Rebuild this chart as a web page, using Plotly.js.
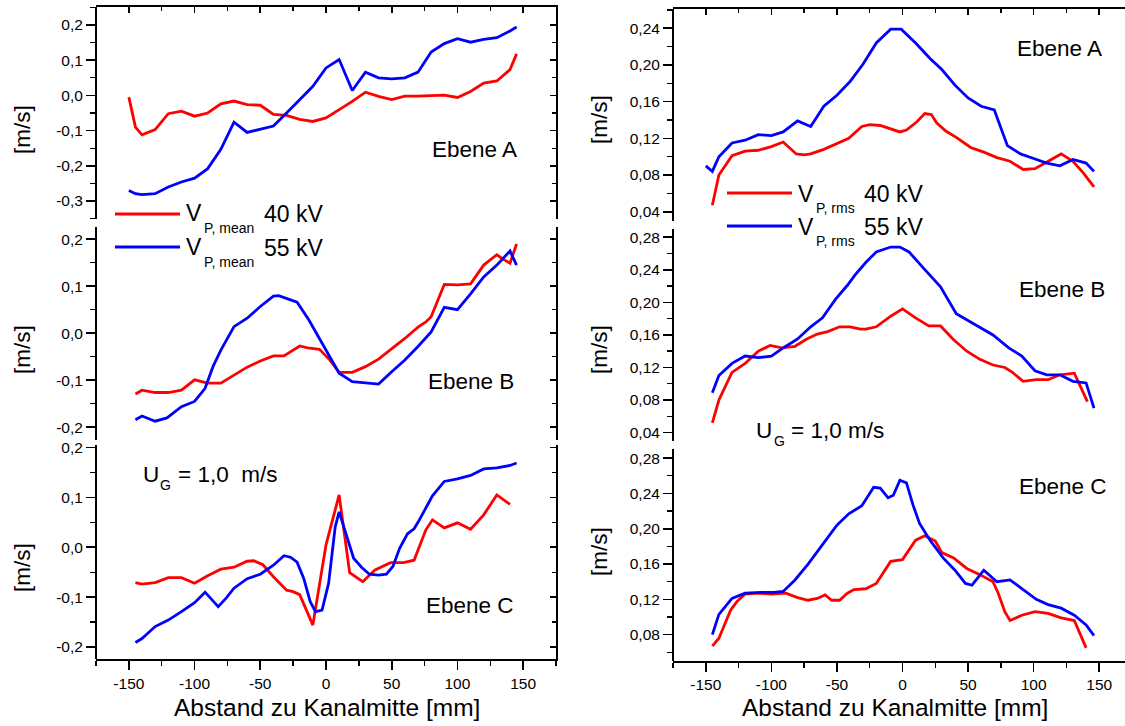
<!DOCTYPE html>
<html>
<head>
<meta charset="utf-8">
<script src="https://cdn.plot.ly/plotly-3.0.1.min.js"></script>
<style>
html,body{margin:0;padding:0;overflow:hidden;background:#fff;}
#chart{width:1132px;height:726px;}
</style>
</head>
<body>
<div id="chart"></div>
<script>
// ---------------- DATA ----------------
// Left column: V_P,mean [m/s]
const meanA_x40 = [-150,-145,-140,-130,-120,-110,-100,-90,-80,-70,-60,-50,-40,-30,-20,-10,0,10,20,30,40,50,60,70,80,90,100,110,120,130,140,145];
const meanA_y40 = [-0.005,-0.09,-0.112,-0.097,-0.052,-0.045,-0.059,-0.050,-0.024,-0.016,-0.026,-0.028,-0.054,-0.057,-0.068,-0.074,-0.064,-0.041,-0.017,0.009,-0.003,-0.012,-0.002,-0.002,-0.001,0.001,-0.006,0.011,0.035,0.041,0.073,0.118];
const meanA_x55 = [-150,-145,-140,-130,-120,-110,-100,-90,-80,-70,-60,-50,-40,-30,-20,-10,0,10,20,30,40,50,60,70,80,90,100,110,120,130,140,145];
const meanA_y55 = [-0.27,-0.279,-0.282,-0.279,-0.26,-0.246,-0.235,-0.208,-0.153,-0.076,-0.105,-0.097,-0.087,-0.05,-0.013,0.026,0.078,0.102,0.014,0.066,0.050,0.047,0.050,0.066,0.123,0.147,0.161,0.151,0.159,0.164,0.183,0.194];

const meanB_x40 = [-145,-140,-130,-120,-110,-100,-90,-80,-70,-60,-50,-40,-32,-25,-20,-14,-5,3,10,20,30,40,50,60,70,76,80,90,100,110,120,130,135,140,145];
const meanB_y40 = [-0.129,-0.121,-0.126,-0.126,-0.121,-0.099,-0.106,-0.106,-0.089,-0.072,-0.059,-0.048,-0.048,-0.036,-0.027,-0.031,-0.034,-0.057,-0.083,-0.083,-0.071,-0.055,-0.034,-0.011,0.013,0.024,0.035,0.104,0.103,0.105,0.145,0.167,0.157,0.149,0.190];
const meanB_x55 = [-145,-140,-130,-121,-110,-100,-92,-86,-80,-70,-60,-50,-40,-36,-27,-22,-13,-5,3,10,20,30,40,50,60,70,80,90,100,110,120,130,140,145];
const meanB_y55 = [-0.184,-0.176,-0.187,-0.180,-0.156,-0.145,-0.117,-0.071,-0.036,0.014,0.032,0.057,0.079,0.080,0.071,0.066,0.028,-0.011,-0.050,-0.085,-0.103,-0.105,-0.108,-0.082,-0.057,-0.028,0.003,0.055,0.050,0.084,0.120,0.145,0.175,0.145];

const meanC_x40 = [-145,-140,-130,-120,-110,-100,-90,-80,-70,-60,-55,-48,-40,-30,-25,-20,-10,0,10,18,28,37,49,59,67,76,81,90,100,110,120,130,140];
const meanC_y40 = [-0.071,-0.074,-0.071,-0.061,-0.061,-0.072,-0.057,-0.044,-0.040,-0.028,-0.027,-0.035,-0.059,-0.086,-0.089,-0.095,-0.156,0.005,0.105,-0.051,-0.069,-0.046,-0.031,-0.031,-0.026,0.035,0.055,0.039,0.049,0.036,0.065,0.105,0.086];
const meanC_x55 = [-145,-140,-130,-120,-110,-100,-92,-82,-76,-70,-60,-50,-40,-32,-27,-22,-17,-12,-8,-3,2,7,10,16,21,27,33,40,46,51,56,62,67,70,76,81,90,100,110,120,130,140,145];
const meanC_y55 = [-0.191,-0.183,-0.159,-0.146,-0.129,-0.111,-0.090,-0.119,-0.102,-0.082,-0.063,-0.054,-0.036,-0.017,-0.020,-0.030,-0.062,-0.109,-0.129,-0.126,-0.072,0.041,0.071,0.021,-0.022,-0.040,-0.054,-0.056,-0.054,-0.038,-0.002,0.027,0.037,0.050,0.078,0.103,0.132,0.137,0.144,0.157,0.159,0.164,0.169];

// Right column: V_P,rms [m/s]
const rmsA_x40 = [-145,-140,-130,-120,-110,-100,-91,-81,-75,-70,-60,-50,-41,-31,-25,-17,-8,-2,3,11,17,22,26,33,41,52,62,72,82,92,101,110,121,130,138,146];
const rmsA_y40 = [0.047,0.080,0.101,0.106,0.107,0.111,0.116,0.103,0.102,0.103,0.108,0.114,0.120,0.133,0.135,0.134,0.130,0.127,0.129,0.138,0.147,0.146,0.137,0.128,0.121,0.110,0.105,0.099,0.095,0.086,0.087,0.094,0.103,0.095,0.082,0.067];
const rmsA_x55 = [-150,-145,-140,-130,-120,-110,-100,-91,-80,-70,-60,-50,-40,-30,-20,-9,-1,10,21,30,40,50,60,70,80,90,100,110,120,130,140,146];
const rmsA_y55 = [0.090,0.084,0.100,0.115,0.118,0.124,0.123,0.127,0.139,0.133,0.155,0.167,0.182,0.201,0.224,0.239,0.239,0.224,0.207,0.195,0.178,0.164,0.155,0.151,0.112,0.103,0.098,0.093,0.090,0.097,0.093,0.084];

const rmsB_x40 = [-145,-140,-130,-120,-110,-101,-92,-82,-73,-65,-57,-48,-40,-32,-28,-20,-9,0,10,20,29,39,49,59,69,78,83,92,102,111,120,131,141];
const rmsB_y40 = [0.052,0.080,0.114,0.125,0.140,0.147,0.144,0.146,0.155,0.161,0.164,0.170,0.170,0.167,0.167,0.170,0.183,0.192,0.181,0.171,0.171,0.154,0.140,0.130,0.123,0.120,0.115,0.103,0.105,0.105,0.111,0.113,0.078];
const rmsB_x55 = [-145,-140,-130,-120,-110,-100,-91,-80,-70,-61,-51,-42,-36,-28,-20,-9,-2,5,16,29,41,54,69,81,91,101,110,120,130,140,146];
const rmsB_y55 = [0.089,0.110,0.125,0.134,0.132,0.134,0.144,0.155,0.170,0.181,0.204,0.221,0.234,0.249,0.262,0.268,0.268,0.262,0.242,0.219,0.186,0.174,0.160,0.144,0.134,0.116,0.111,0.111,0.103,0.101,0.070];

const rmsC_x40 = [-145,-140,-131,-126,-120,-110,-100,-89,-80,-72,-65,-59,-54,-48,-42,-37,-28,-20,-9,0,10,17,25,30,39,49,59,69,73,78,82,91,101,111,121,131,140];
const rmsC_y40 = [0.067,0.076,0.108,0.118,0.126,0.127,0.126,0.127,0.122,0.119,0.121,0.125,0.119,0.119,0.127,0.131,0.132,0.138,0.163,0.165,0.187,0.192,0.186,0.173,0.167,0.155,0.148,0.140,0.127,0.106,0.096,0.102,0.106,0.104,0.099,0.096,0.065];
const rmsC_x55 = [-145,-140,-130,-120,-108,-98,-91,-82,-72,-60,-50,-41,-31,-22,-17,-11,-7,-2,3,8,13,21,31,40,48,53,62,72,82,92,102,111,121,131,140,146];
const rmsC_y55 = [0.080,0.103,0.121,0.127,0.128,0.128,0.129,0.142,0.160,0.184,0.204,0.217,0.226,0.247,0.246,0.235,0.238,0.255,0.252,0.227,0.206,0.187,0.167,0.153,0.138,0.136,0.153,0.140,0.142,0.131,0.120,0.114,0.110,0.102,0.091,0.079];

// Tick labels
const xTickVals = [-150,-100,-50,0,50,100,150];
const xTickText = ['-150','-100','-50','0','50','100','150'];
const meanA_tickVals = [-0.3,-0.2,-0.1,0,0.1,0.2];
const meanA_tickText = ['-0,3','-0,2','-0,1','0,0','0,1','0,2'];
const meanBC_tickVals = [-0.2,-0.1,0,0.1,0.2];
const meanBC_tickText = ['-0,2','-0,1','0,0','0,1','0,2'];
const rmsA_tickVals = [0.04,0.08,0.12,0.16,0.20,0.24];
const rmsA_tickText = ['0,04','0,08','0,12','0,16','0,20','0,24'];
const rmsB_tickVals = [0.04,0.08,0.12,0.16,0.20,0.24,0.28];
const rmsB_tickText = ['0,04','0,08','0,12','0,16','0,20','0,24','0,28'];
const rmsC_tickVals = [0.08,0.12,0.16,0.20,0.24,0.28];
const rmsC_tickText = ['0,08','0,12','0,16','0,20','0,24','0,28'];

// ---------------- LAYOUT HELPERS ----------------
const W = 1132, H = 726;
const FONT = 'Liberation Sans, Arial, sans-serif';
const RED = '#ff0000', BLUE = '#0000ff';
const XR = [-175, 175];
const fx = p => p / W;
const fy = p => 1 - p / H;
const ydom = (top, bot) => [fy(bot), fy(top)];

const tickFont = {family: FONT, size: 15.5, color: '#000'};

function baseAxis(extra) {
  return Object.assign({
    showgrid: false, zeroline: false, showline: true, linecolor: '#000', linewidth: 2,
    ticks: 'outside', ticklen: 9, tickwidth: 1.6, tickcolor: '#000',
    tickfont: tickFont, fixedrange: true
  }, extra);
}
function yMain(domain, range, tv, tt, mstep) {
  return baseAxis({domain: domain, range: range, tickmode: 'array', tickvals: tv, ticktext: tt,
    anchor: 'free', position: 0,
    minor: {tickmode: 'linear', tick0: 0, dtick: mstep, ticks: 'outside', ticklen: 5, tickwidth: 1.4, tickcolor: '#000'}});
}
function yMirror(over, range, mstep, xanchor) {
  return baseAxis({overlaying: over, side: 'right', anchor: xanchor, range: range,
    ticks: 'inside', ticklen: 6, tickmode: 'linear', tick0: 0, dtick: mstep * 2, showticklabels: false,
    minor: {tickmode: 'linear', tick0: 0, dtick: mstep, ticks: 'inside', ticklen: 4, tickwidth: 1.4, tickcolor: '#000'}});
}
function xTop(over, yanchor) {
  return baseAxis({overlaying: over, side: 'top', anchor: yanchor, range: XR,
    ticks: 'inside', ticklen: 6, tickmode: 'linear', tick0: 0, dtick: 50, showticklabels: false,
    minor: {tickmode: 'linear', tick0: 0, dtick: 25, ticks: 'inside', ticklen: 4, tickwidth: 1.4, tickcolor: '#000'}});
}
function xBottom(domain, yanchor) {
  return baseAxis({domain: domain, range: XR, anchor: yanchor, tickmode: 'array',
    tickvals: xTickVals, ticktext: xTickText,
    minor: {tickmode: 'linear', tick0: 0, dtick: 25, ticks: 'outside', ticklen: 5, tickwidth: 1.4, tickcolor: '#000'}});
}

const leftXD = [fx(96), fx(556)];
const rightXD = [fx(673), 1];

const rMeanA = [-0.351, 0.251], rMeanB = [-0.227, 0.226], rMeanC = [-0.224, 0.205];
const rRmsA = [0.0302, 0.2607], rRmsB = [0.030, 0.2898], rRmsC = [0.0505, 0.290];

const layout = {
  width: W, height: H,
  margin: {l: 0, r: 0, t: 0, b: 0, pad: 0},
  paper_bgcolor: '#fff', plot_bgcolor: 'rgba(0,0,0,0)',
  showlegend: false,
  font: {family: FONT, color: '#000'},
  // left column
  xaxis: xBottom(leftXD, 'y3'),
  xaxis2: xTop('x', 'y'),
  yaxis: Object.assign(yMain(ydom(7, 219), rMeanA, meanA_tickVals, meanA_tickText, 0.05), {position: leftXD[0]}),
  yaxis2: Object.assign(yMain(ydom(227, 440), rMeanB, meanBC_tickVals, meanBC_tickText, 0.05), {position: leftXD[0]}),
  yaxis3: Object.assign(yMain(ydom(445, 659), rMeanC, meanBC_tickVals, meanBC_tickText, 0.05), {position: leftXD[0]}),
  yaxis4: yMirror('y', rMeanA, 0.05, 'x'),
  yaxis5: yMirror('y2', rMeanB, 0.05, 'x'),
  yaxis6: yMirror('y3', rMeanC, 0.05, 'x'),
  // right column
  xaxis3: xBottom(rightXD, 'y9'),
  xaxis4: xTop('x3', 'y7'),
  yaxis7: Object.assign(yMain(ydom(9.3, 220.7), rRmsA, rmsA_tickVals, rmsA_tickText, 0.02), {position: rightXD[0]}),
  yaxis8: Object.assign(yMain(ydom(229.3, 440.7), rRmsB, rmsB_tickVals, rmsB_tickText, 0.02), {position: rightXD[0]}),
  yaxis9: Object.assign(yMain(ydom(449.3, 660.7), rRmsC, rmsC_tickVals, rmsC_tickText, 0.02), {position: rightXD[0]}),
  annotations: [],
  shapes: []
};

function ann(text, x, y, size, opts) {
  layout.annotations.push(Object.assign({
    text: text, xref: 'paper', yref: 'paper', x: fx(x), y: fy(y),
    xanchor: 'left', yanchor: 'middle', showarrow: false,
    font: {family: FONT, size: size, color: '#000'}
  }, opts || {}));
}
function legLine(x0, x1, y, color) {
  layout.shapes.push({type: 'line', xref: 'paper', yref: 'paper', x0: fx(x0), x1: fx(x1), y0: fy(y), y1: fy(y),
    line: {color: color, width: 3}});
}

// axis titles
ann('[m/s]', 22, 130, 22.5, {xanchor: 'center', textangle: -90});
ann('[m/s]', 22, 350, 22.5, {xanchor: 'center', textangle: -90});
ann('[m/s]', 22, 568, 22.5, {xanchor: 'center', textangle: -90});
ann('[m/s]', 599, 120, 22.5, {xanchor: 'center', textangle: -90});
ann('[m/s]', 599, 350, 22.5, {xanchor: 'center', textangle: -90});
ann('[m/s]', 599, 552, 22.5, {xanchor: 'center', textangle: -90});
ann('Abstand zu Kanalmitte [mm]', 327, 707, 24.5, {xanchor: 'center'});
ann('Abstand zu Kanalmitte [mm]', 895, 707, 24.5, {xanchor: 'center'});

// panel labels
ann('Ebene A', 430, 149, 22.5);
ann('Ebene B', 426, 381, 22.5);
ann('Ebene C', 424, 605, 22.5);
ann('Ebene A', 1015, 49, 22.5);
ann('Ebene B', 1017, 289, 22.5);
ann('Ebene C', 1017, 486, 22.5);

// U_G labels
ann('U', 141, 474, 22.5);
ann('G', 158, 485, 14);
ann('= 1,0\u00a0\u00a0m/s', 176, 474, 22.5);
ann('U', 754, 430, 22.5);
ann('G', 772, 441, 14);
ann('= 1,0 m/s', 789, 430, 22.5);

// left legend
legLine(115, 180, 214, RED);
ann('V', 184, 213, 23);
ann('P, mean', 202, 228, 14);
ann('40 kV', 262, 214, 23);
legLine(115, 180, 247, BLUE);
ann('V', 184, 247, 23);
ann('P, mean', 202, 262, 14);
ann('55 kV', 262, 248, 23);

// right legend
legLine(727, 792, 193, RED);
ann('V', 796, 194, 23);
ann('P, rms', 814, 208, 14);
ann('40 kV', 862, 194, 23);
legLine(727, 792, 226, BLUE);
ann('V', 796, 227, 23);
ann('P, rms', 814, 241, 14);
ann('55 kV', 862, 227, 23);

// ---------------- TRACES ----------------
function line(x, y, color, xa, ya) {
  return {type: 'scatter', mode: 'lines', x: x, y: y, xaxis: xa, yaxis: ya,
    line: {color: color, width: 2.8}, hoverinfo: 'skip', showlegend: false, cliponaxis: true};
}
function empty(xa, ya) {
  return {type: 'scatter', mode: 'lines', x: [], y: [], xaxis: xa, yaxis: ya, hoverinfo: 'skip', showlegend: false};
}
const data = [
  line(meanA_x40, meanA_y40, RED, 'x', 'y'),
  line(meanA_x55, meanA_y55, BLUE, 'x', 'y'),
  line(meanB_x40, meanB_y40, RED, 'x', 'y2'),
  line(meanB_x55, meanB_y55, BLUE, 'x', 'y2'),
  line(meanC_x40, meanC_y40, RED, 'x', 'y3'),
  line(meanC_x55, meanC_y55, BLUE, 'x', 'y3'),
  line(rmsA_x40, rmsA_y40, RED, 'x3', 'y7'),
  line(rmsA_x55, rmsA_y55, BLUE, 'x3', 'y7'),
  line(rmsB_x40, rmsB_y40, RED, 'x3', 'y8'),
  line(rmsB_x55, rmsB_y55, BLUE, 'x3', 'y8'),
  line(rmsC_x40, rmsC_y40, RED, 'x3', 'y9'),
  line(rmsC_x55, rmsC_y55, BLUE, 'x3', 'y9'),
  empty('x2', 'y'), empty('x', 'y4'), empty('x', 'y5'), empty('x', 'y6'), empty('x4', 'y7')
];

Plotly.newPlot('chart', data, layout, {staticPlot: true, displayModeBar: false});
</script>
</body>
</html>
